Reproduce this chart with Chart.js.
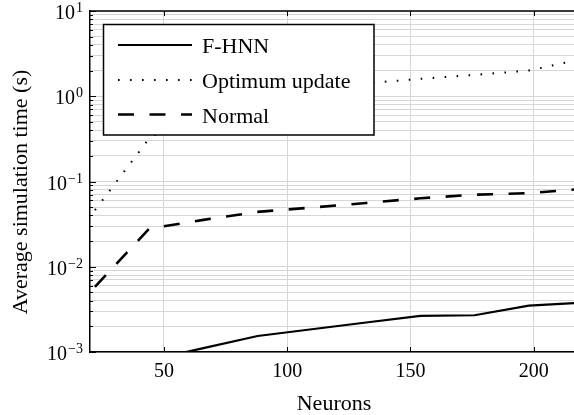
<!DOCTYPE html>
<html>
<head>
    <title>Average simulation time</title>
    <script src="https://cdn.jsdelivr.net/npm/chart.js"></script>
    <style>
        body { margin: 0; background: #fff; }
        #wrap { width: 574px; height: 415px; overflow: hidden; }
    </style>
</head>
<body>
    <div id="wrap">
        <canvas id="timeChart" width="583" height="415"></canvas>
    </div>

    <script>
        // values
        const neurons = [22, 44, 66, 88, 110, 132, 154, 176, 198, 220];
        const fhnn    = [0.0005, 0.0008, 0.00111, 0.00154, 0.00185, 0.00222, 0.00265, 0.0027, 0.0035, 0.0038];
        const optimum = [0.046, 0.32, 0.75, 1.0, 1.2, 1.42, 1.6, 1.78, 2.0, 2.75];
        const normal  = [0.0058, 0.028, 0.0355, 0.044, 0.0495, 0.056, 0.0635, 0.07, 0.073, 0.082];

        const seriesNames = ['F-HNN', 'Optimum update', 'Normal'];
        const xTicks = [50, 100, 150, 200];
        const yDecades = [0.001, 0.01, 0.1, 1, 10];
        const yExponents = ['\u22123', '\u22122', '\u22121', '0', '1'];

        const FONT = '"Liberation Serif", "DejaVu Serif", serif';
        const gridGray = '#d6d6d6';

        function pts(vals) {
            return vals.map((v, i) => ({ x: neurons[i], y: v }));
        }

        const styles = [
            { borderWidth: 2.2, borderDash: [] },
            { borderWidth: 2, borderDash: [1.6, 10.4] },
            { borderWidth: 2.6, borderDash: [16, 15.5] }
        ];

        const datasets = [fhnn, optimum, normal].map((vals, i) => ({
            label: seriesNames[i],
            data: pts(vals),
            borderColor: '#000',
            borderWidth: styles[i].borderWidth,
            borderDash: styles[i].borderDash,
            pointRadius: 0,
            fill: false,
            tension: 0
        }));

        // axes decorations, labels, titles and the boxed legend
        const decor = {
            id: 'decor',
            afterDatasetsDraw(chart) {
                const ctx = chart.ctx;
                const a = chart.chartArea;
                const xs = chart.scales.x;
                const ys = chart.scales.y;
                ctx.save();

                // top frame line
                ctx.strokeStyle = '#000';
                ctx.lineWidth = 1.5;
                ctx.beginPath();
                ctx.moveTo(a.left, a.top);
                ctx.lineTo(a.right, a.top);
                ctx.stroke();

                // inner ticks
                ctx.lineWidth = 1;
                ctx.beginPath();
                ys.ticks.forEach(t => {
                    const y = Math.round(ys.getPixelForValue(t.value)) + 0.5;
                    const major = yDecades.includes(t.value);
                    ctx.moveTo(a.left, y);
                    ctx.lineTo(a.left + (major ? 6 : 3), y);
                });
                xTicks.forEach(v => {
                    const x = Math.round(xs.getPixelForValue(v)) + 0.5;
                    ctx.moveTo(x, a.bottom);
                    ctx.lineTo(x, a.bottom - 5);
                    ctx.moveTo(x, a.top);
                    ctx.lineTo(x, a.top + 5);
                });
                ctx.stroke();

                // y tick labels 10^n
                ctx.fillStyle = '#000';
                ctx.textBaseline = 'alphabetic';
                yDecades.forEach((v, i) => {
                    const y = ys.getPixelForValue(v);
                    ctx.font = '14px ' + FONT;
                    ctx.textAlign = 'right';
                    const expW = ctx.measureText(yExponents[i]).width;
                    ctx.fillText(yExponents[i], 83, y + 1);
                    ctx.font = '20px ' + FONT;
                    ctx.fillText('10', 83 - expW - 1, y + 8);
                });

                // x tick labels
                ctx.font = '20px ' + FONT;
                ctx.textAlign = 'center';
                xTicks.forEach(v => {
                    ctx.fillText(String(v), xs.getPixelForValue(v), 377);
                });

                // axis titles
                ctx.font = '22px ' + FONT;
                ctx.fillText('Neurons', 334, 410);
                ctx.save();
                ctx.translate(27, 192);
                ctx.rotate(-Math.PI / 2);
                ctx.fillText('Average simulation time (s)', 0, 0);
                ctx.restore();

                // legend box
                ctx.fillStyle = '#fff';
                ctx.fillRect(103.5, 24.5, 270.5, 110.5);
                ctx.strokeStyle = '#000';
                ctx.lineWidth = 1.5;
                ctx.strokeRect(103.5, 24.5, 270.5, 110.5);
                const rows = [45, 80, 114.5];
                chart.data.datasets.forEach((ds, i) => {
                    ctx.save();
                    ctx.lineWidth = ds.borderWidth;
                    ctx.setLineDash(ds.borderDash);
                    ctx.beginPath();
                    ctx.moveTo(118, rows[i]);
                    ctx.lineTo(192, rows[i]);
                    ctx.stroke();
                    ctx.restore();
                    ctx.fillStyle = '#000';
                    ctx.textAlign = 'left';
                    ctx.font = '22px ' + FONT;
                    ctx.fillText(ds.label, 202, rows[i] + 8);
                });

                ctx.restore();
            }
        };

        const chart = new Chart(document.getElementById('timeChart'), {
            type: 'line',
            data: { datasets: datasets },
            options: {
                responsive: false,
                devicePixelRatio: 1,
                animation: false,
                layout: { padding: { top: 11, right: 0, left: 0, bottom: 0 } },
                plugins: { legend: { display: false }, tooltip: { enabled: false } },
                scales: {
                    x: {
                        type: 'linear',
                        min: 20,
                        max: 220,
                        afterBuildTicks: s => { s.ticks = xTicks.map(v => ({ value: v })); },
                        afterFit: s => { s.height = 63; },
                        ticks: { display: false },
                        grid: { color: gridGray, drawTicks: false, lineWidth: 1 },
                        border: { color: '#000', width: 1.5 }
                    },
                    y: {
                        type: 'logarithmic',
                        min: 0.001,
                        max: 10,
                        afterBuildTicks: s => {
                            const t = [];
                            for (let e = -3; e < 1; e++) {
                                for (let m = 1; m <= 9; m++) t.push({ value: m * Math.pow(10, e) });
                            }
                            t.push({ value: 10 });
                            s.ticks = t;
                        },
                        afterFit: s => { s.width = 90; },
                        ticks: { display: false },
                        grid: { color: gridGray, drawTicks: false, lineWidth: 1 },
                        border: { color: '#000', width: 1.5 }
                    }
                }
            },
            plugins: [decor]
        });
    </script>
</body>
</html>
